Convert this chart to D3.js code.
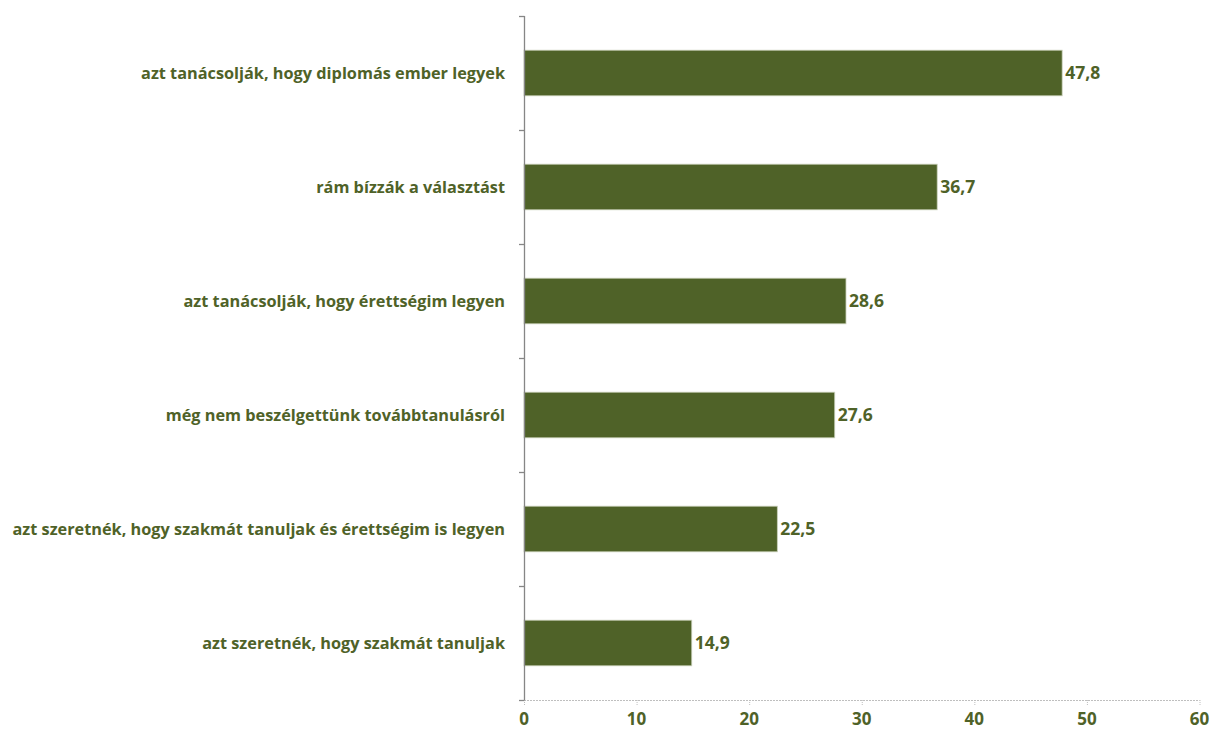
<!DOCTYPE html>
<html><head><meta charset="utf-8">
<script src="https://cdn.jsdelivr.net/npm/d3@7"></script>
<style>body{margin:0;background:#fff}svg{display:block}text{font-family:"Open Sans",Lato,sans-serif;font-weight:bold;fill:#4F6228}</style>
</head><body><svg id="c" width="1212" height="734"></svg>
<script>
const categories = ["azt tanácsolják, hogy diplomás ember legyek","rám bízzák a választást","azt tanácsolják, hogy érettségim legyen","még nem beszélgettünk továbbtanulásról","azt szeretnék, hogy szakmát tanuljak és érettségim is legyen","azt szeretnék, hogy szakmát tanuljak"];
const values = [47.8,36.7,28.6,27.6,22.5,14.9];
const xTicks = [0,10,20,30,40,50,60];
const fmt = v => String(v).replace(".", ",");

const svg = d3.select("#c");
const L = 524, R = 1199.5, T = 16, B = 700;
const x = d3.scaleLinear().domain([0,60]).range([L,R]);
const y = d3.scaleBand().domain(categories).range([T,B]).paddingInner(0.6).paddingOuter(0.3);
const yb = d3.scaleBand().domain(categories).range([T,B]);

// x axis line (dotted light gray)
svg.append("line").attr("x1",L).attr("x2",R).attr("y1",B+0.5).attr("y2",B+0.5)
  .attr("stroke","#bfbfbf").attr("stroke-dasharray","2,1");
svg.selectAll(".xt").data(xTicks).join("line").attr("x1",d=>x(d)+0.5).attr("x2",d=>x(d)+0.5)
  .attr("y1",B).attr("y2",B+6).attr("stroke","#bfbfbf").attr("stroke-dasharray","1,1");
svg.selectAll(".xl").data(xTicks).join("text").attr("x",d=>x(d)).attr("y",B+25)
  .attr("text-anchor","middle").attr("font-size",17).text(d=>d);

// bars
svg.selectAll(".bar").data(values).join("rect")
  .attr("x",L).attr("y",(d,i)=>y(categories[i]))
  .attr("width",d=>x(d)-L).attr("height",y.bandwidth())
  .attr("fill","#4F6228").attr("stroke","#c8cfb8").attr("stroke-width",0.8);

// y axis
const bounds = categories.map(c=>yb(c)).concat([B]);
svg.append("line").attr("x1",L+0.5).attr("x2",L+0.5).attr("y1",T).attr("y2",B).attr("stroke","#868686").attr("stroke-width",1.3);
svg.selectAll(".yt").data(bounds).join("line").attr("x1",L-5).attr("x2",L+0.5)
  .attr("y1",d=>Math.round(d)+0.5).attr("y2",d=>Math.round(d)+0.5).attr("stroke","#868686").attr("stroke-width",1.3);

// category labels
svg.selectAll(".cl").data(categories).join("text").attr("x",L-19)
  .attr("y",d=>y(d)+y.bandwidth()/2).attr("dy","0.35em").attr("text-anchor","end")
  .attr("font-size",16.3).text(d=>d);

// value labels
svg.selectAll(".vl").data(values).join("text").attr("x",d=>x(d)+3)
  .attr("y",(d,i)=>y(categories[i])+y.bandwidth()/2).attr("dy","0.35em")
  .attr("font-size",17.5).text(d=>fmt(d));
</script></body></html>
